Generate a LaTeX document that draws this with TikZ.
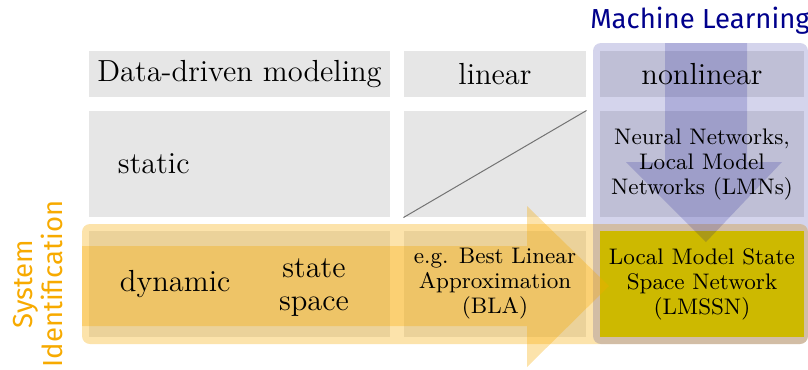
\documentclass[tikz,border=0pt]{standalone}
\usepackage{fontspec}
\newfontfamily\labelfont{Fira Sans}
\usetikzlibrary{positioning}

\definecolor{cellgray}{RGB}{230,230,230}
\definecolor{mlblue}{RGB}{0,0,140}
\definecolor{sysorange}{RGB}{247,170,0}
\definecolor{lmssnyellow}{RGB}{205,185,0}

\begin{document}
\begin{tikzpicture}[x=0.4pt, y=-0.4pt,
    cell/.style={fill=cellgray, inner sep=0pt, minimum height=42.4pt},
    headcell/.style={cell, minimum height=18.4pt},
    celltext/.style={font=\fontsize{12.2}{13.2}\selectfont, align=center, inner sep=0pt},
    smalltext/.style={font=\fontsize{9}{10}\selectfont, align=center, inner sep=0pt},
    areatitle/.style={font=\labelfont\fontsize{11}{12}\selectfont, align=center, inner sep=0pt}]
    \useasboundingbox (0,0) rectangle (808,369);

    % table cells
    \node[headcell, minimum width=120.4pt] (hdata) at (239.5,74) {};
    \node[headcell, minimum width=72.8pt] (hlin) at (495,74) {};
    \node[headcell, minimum width=81.6pt] (hnonlin) at (702,74) {};
    \node[cell, minimum width=120.4pt] (sstat) at (239.5,164) {};
    \node[cell, minimum width=72.8pt] (slin) at (495,164) {};
    \node[cell, minimum width=81.6pt] (snonlin) at (702,164) {};
    \node[cell, minimum width=120.4pt] (ddyn) at (239.5,284) {};
    \node[cell, minimum width=72.8pt] (dlin) at (495,284) {};
    \draw[black!55, line width=0.4pt] (slin.south west) -- (slin.north east);

    % highlighted areas
    \fill[sysorange, fill opacity=0.33, rounded corners=3.2pt] (82,224) rectangle (808,344);
    \fill[mlblue, fill opacity=0.17, rounded corners=3.2pt] (593,43) rectangle (808,344);
    \node[cell, fill=lmssnyellow, minimum width=81.6pt] (dnonlin) at (702,284) {};

    % arrows
    \fill[mlblue, fill opacity=0.17] (665,43) -- (747,43) -- (747,162) -- (782,162)
        -- (706,242) -- (626,162) -- (665,162) -- cycle;
    \fill[sysorange, fill opacity=0.33] (82,246) -- (527,246) -- (527,206) -- (609,286)
        -- (527,367) -- (527,326) -- (82,326) -- cycle;

    % texts
    \node[celltext] at (hdata) {Data-driven modeling};
    \node[celltext] at (hlin) {linear};
    \node[celltext] at (hnonlin) {nonlinear};
    \node[celltext, anchor=west] at ([xshift=11.6pt]sstat.west) {static};
    \node[celltext, anchor=west] at ([xshift=12.4pt]ddyn.west) {dynamic};
    \node[celltext] at (314,288) {state\\space};
    \node[smalltext] at (snonlin) {Neural Networks,\\Local Model\\Networks (LMNs)};
    \node[smalltext] at (dlin) {e.g. Best Linear\\Approximation\\(BLA)};
    \node[smalltext] at (dnonlin) {Local Model State\\Space Network\\(LMSSN)};

    \node[areatitle, text=mlblue, anchor=base] (ml) at (700,28) {Machine Learning};
    \node[areatitle, text=sysorange, rotate=90] (sysid) at (38,284) {System\\Identification};
\end{tikzpicture}
\end{document}
